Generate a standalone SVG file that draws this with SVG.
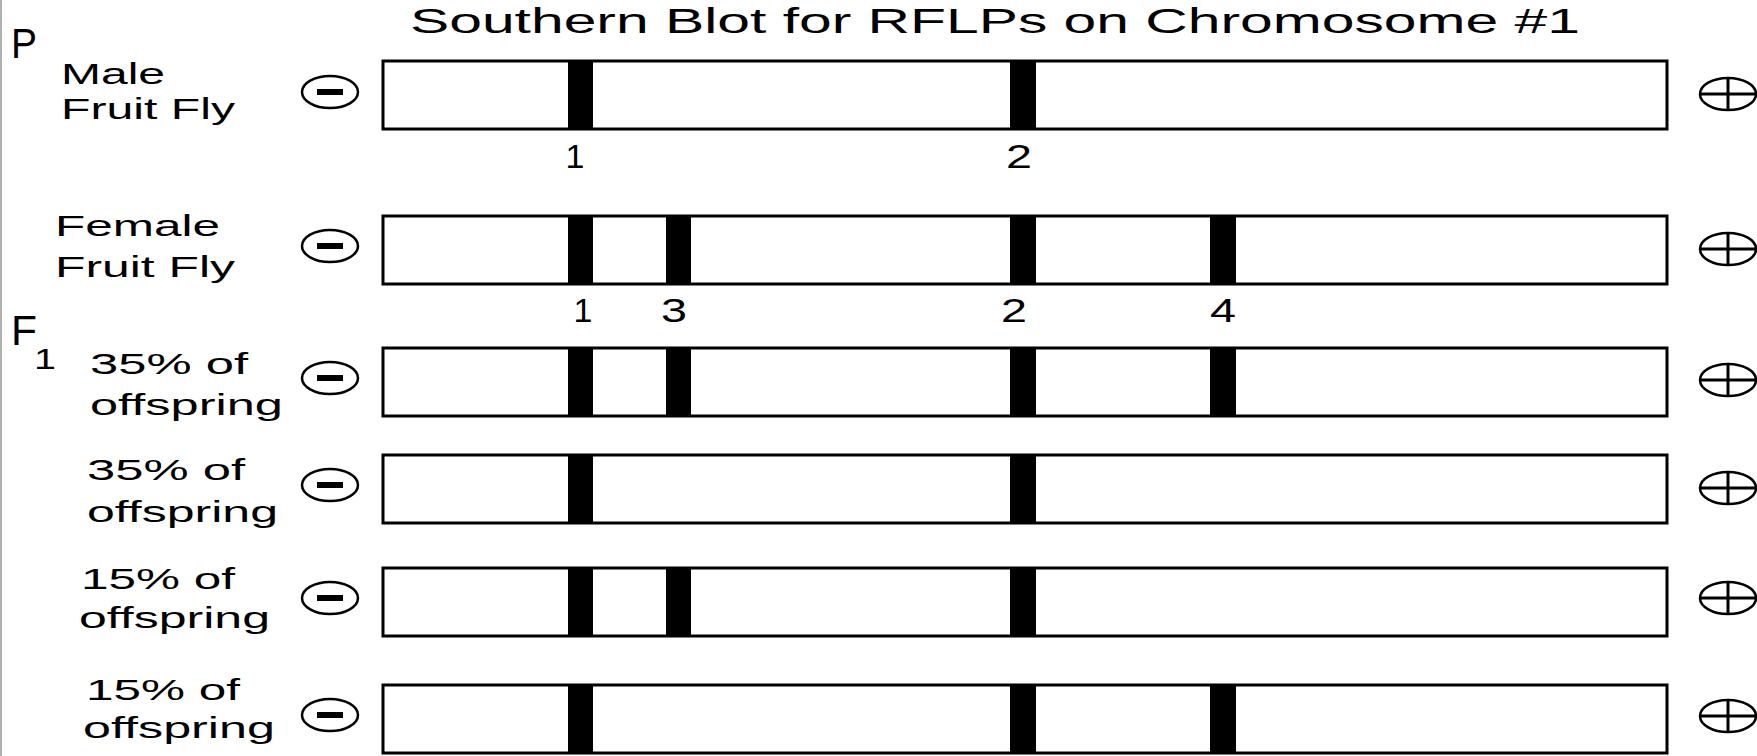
<svg xmlns="http://www.w3.org/2000/svg" width="1757" height="756" viewBox="0 0 1757 756">
<style>
text{font-family:"Liberation Sans",Arial,sans-serif;fill:#000}
.lbl{font-size:29px}
.title{font-size:35px}
.gen{font-size:42px}
.num{font-size:34px}
.box{fill:#fff;stroke:#000;stroke-width:3}
.band{fill:#000}
.pole{fill:none;stroke:#000;stroke-width:2.5}
</style>
<defs>
<g id="minus"><ellipse cx="0" cy="0" rx="28" ry="16" class="pole"/><rect x="-13" y="-3" width="26" height="6" fill="#000"/></g>
<g id="plus"><ellipse cx="0" cy="0" rx="28" ry="16" class="pole"/><line x1="-28" y1="0" x2="28" y2="0" stroke="#000" stroke-width="3"/><line x1="0" y1="-15" x2="0" y2="15" stroke="#000" stroke-width="3"/></g>
</defs>
<rect x="0" y="0" width="1757" height="756" fill="#fff"/>
<rect x="0" y="0" width="2" height="756" fill="#b0b0b0"/>
<text id="title" class="title" x="410" y="33" textLength="1170" lengthAdjust="spacingAndGlyphs">Southern Blot for RFLPs on Chromosome #1</text>
<text class="gen" x="11" y="58" textLength="26" lengthAdjust="spacingAndGlyphs">P</text>
<text class="gen" x="11" y="345" textLength="26" lengthAdjust="spacingAndGlyphs">F</text>
<text x="34" y="369" font-size="30" textLength="22" lengthAdjust="spacingAndGlyphs">1</text>

<g id="row-male">
<text class="lbl" x="61" y="84" textLength="104" lengthAdjust="spacingAndGlyphs">Male</text>
<text class="lbl" x="61" y="119" textLength="174" lengthAdjust="spacingAndGlyphs">Fruit Fly</text>
<use href="#minus" x="330" y="92"/>
<rect class="box" x="383" y="61" width="1284" height="68"/>
<rect class="band" x="568" y="61" width="25" height="68"/>
<rect class="band" x="1010" y="61" width="26" height="68"/>
<use href="#plus" x="1728" y="94"/>
<text class="num" x="575" y="168" text-anchor="middle">1</text>
<text class="num" x="1019" y="168" text-anchor="middle" textLength="26" lengthAdjust="spacingAndGlyphs">2</text>
</g>

<g id="row-female">
<text class="lbl" x="55" y="236" textLength="165" lengthAdjust="spacingAndGlyphs">Female</text>
<text class="lbl" x="55" y="277" textLength="180" lengthAdjust="spacingAndGlyphs">Fruit Fly</text>
<use href="#minus" x="330" y="246"/>
<rect class="box" x="383" y="216" width="1284" height="68"/>
<rect class="band" x="568" y="216" width="25" height="68"/>
<rect class="band" x="666" y="216" width="25" height="68"/>
<rect class="band" x="1010" y="216" width="26" height="68"/>
<rect class="band" x="1210" y="216" width="26" height="68"/>
<use href="#plus" x="1728" y="249"/>
<text class="num" x="583" y="322" text-anchor="middle">1</text>
<text class="num" x="674" y="322" text-anchor="middle" textLength="26" lengthAdjust="spacingAndGlyphs">3</text>
<text class="num" x="1014" y="322" text-anchor="middle" textLength="26" lengthAdjust="spacingAndGlyphs">2</text>
<text class="num" x="1223" y="322" text-anchor="middle" textLength="26" lengthAdjust="spacingAndGlyphs">4</text>
</g>

<g id="row-f1-a">
<text class="lbl" x="90" y="374" textLength="158" lengthAdjust="spacingAndGlyphs">35% of</text>
<text class="lbl" x="90" y="415" textLength="193" lengthAdjust="spacingAndGlyphs">offspring</text>
<use href="#minus" x="330" y="378"/>
<rect class="box" x="383" y="348" width="1284" height="68"/>
<rect class="band" x="568" y="348" width="25" height="68"/>
<rect class="band" x="666" y="348" width="25" height="68"/>
<rect class="band" x="1010" y="348" width="26" height="68"/>
<rect class="band" x="1210" y="348" width="26" height="68"/>
<use href="#plus" x="1728" y="380"/>
</g>

<g id="row-f1-b">
<text class="lbl" x="87" y="480" textLength="158" lengthAdjust="spacingAndGlyphs">35% of</text>
<text class="lbl" x="87" y="522" textLength="191" lengthAdjust="spacingAndGlyphs">offspring</text>
<use href="#minus" x="330" y="485"/>
<rect class="box" x="383" y="455" width="1284" height="68"/>
<rect class="band" x="568" y="455" width="25" height="68"/>
<rect class="band" x="1010" y="455" width="26" height="68"/>
<use href="#plus" x="1728" y="488"/>
</g>

<g id="row-f1-c">
<text class="lbl" x="81" y="589" textLength="154" lengthAdjust="spacingAndGlyphs">15% of</text>
<text class="lbl" x="79" y="628" textLength="191" lengthAdjust="spacingAndGlyphs">offspring</text>
<use href="#minus" x="330" y="598"/>
<rect class="box" x="383" y="568" width="1284" height="68"/>
<rect class="band" x="568" y="568" width="25" height="68"/>
<rect class="band" x="666" y="568" width="25" height="68"/>
<rect class="band" x="1010" y="568" width="26" height="68"/>
<use href="#plus" x="1728" y="598"/>
</g>

<g id="row-f1-d">
<text class="lbl" x="86" y="700" textLength="154" lengthAdjust="spacingAndGlyphs">15% of</text>
<text class="lbl" x="83" y="738" textLength="192" lengthAdjust="spacingAndGlyphs">offspring</text>
<use href="#minus" x="330" y="715"/>
<rect class="box" x="383" y="685" width="1284" height="68"/>
<rect class="band" x="568" y="685" width="25" height="68"/>
<rect class="band" x="1010" y="685" width="26" height="68"/>
<rect class="band" x="1210" y="685" width="26" height="68"/>
<use href="#plus" x="1728" y="716"/>
</g>
</svg>
